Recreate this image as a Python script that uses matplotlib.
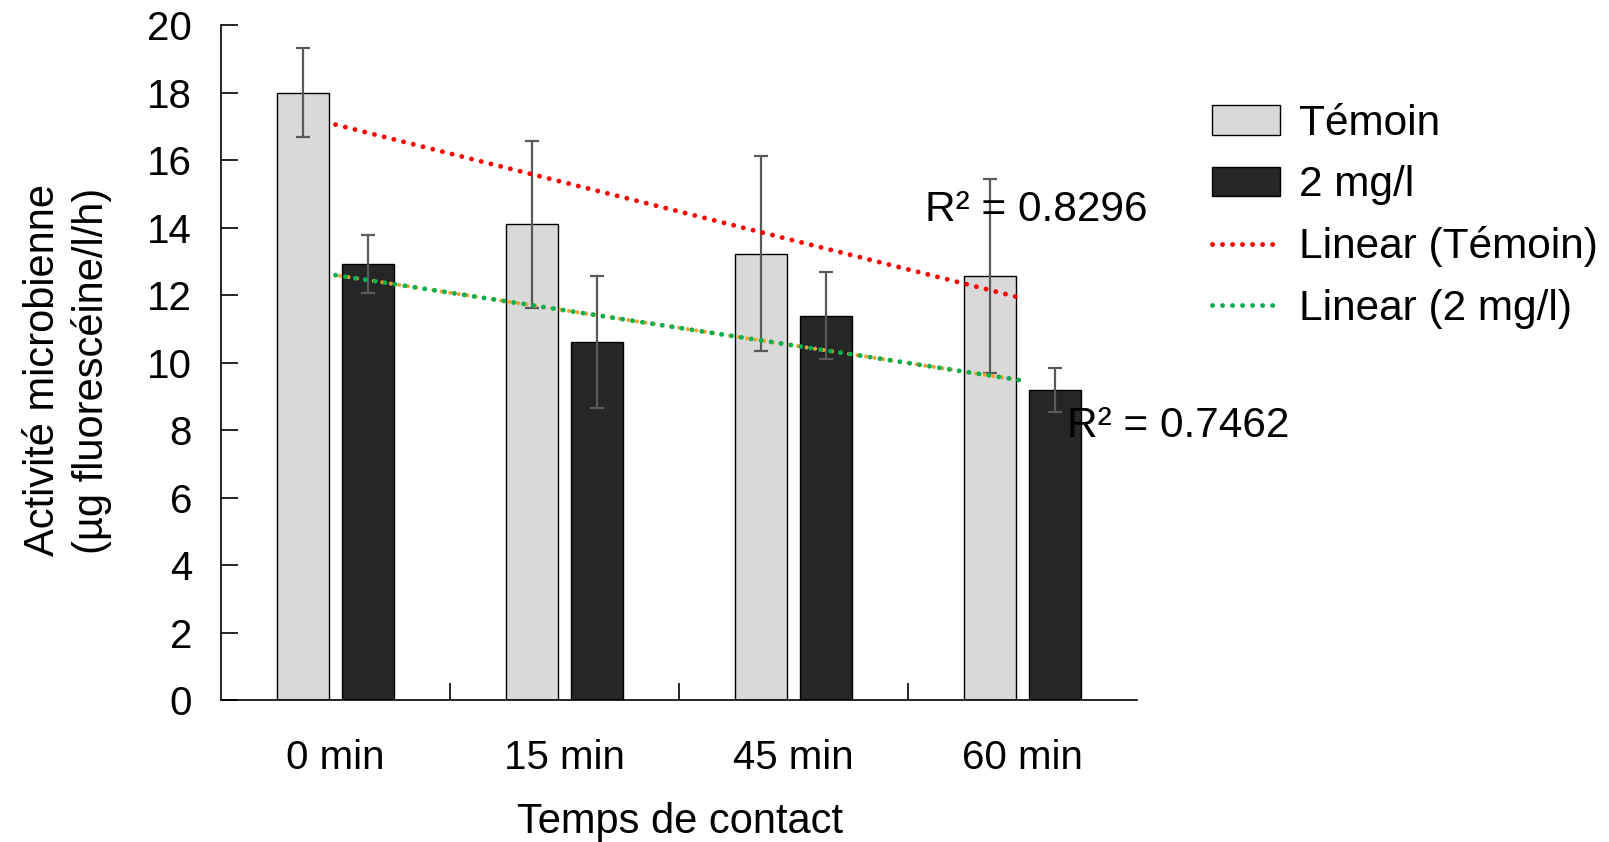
import matplotlib; matplotlib.use('Agg')
import matplotlib.pyplot as plt
import numpy as np
from matplotlib.patches import Patch
from matplotlib.lines import Line2D

plt.rcParams['font.family'] = ['Liberation Sans', 'DejaVu Sans']

# data
categories = ['0 min', '15 min', '45 min', '60 min']
temoin = [18.0, 14.1, 13.23, 12.57]
temoin_err = [1.32, 2.47, 2.9, 2.87]
dose = [12.92, 10.61, 11.39, 9.19]
dose_err = [0.86, 1.95, 1.3, 0.66]
r2_temoin = 'R² = 0.8296'
r2_dose = 'R² = 0.7462'

x = np.arange(len(categories))
w = 0.227
off = 0.142

fig = plt.figure(figsize=(16.09, 8.42), dpi=100)
ax = fig.add_axes([0.1374, 0.1686, 0.5693, 0.8017])

err_kw = dict(ecolor='#595959', elinewidth=1.6, capsize=5, capthick=1.6)
ax.bar(x - off, temoin, w, color='#d9d9d9', edgecolor='black', linewidth=1.0,
       yerr=temoin_err, error_kw=err_kw, zorder=2)
ax.bar(x + off, dose, w, color='#262626', edgecolor='black', linewidth=1.0,
       yerr=dose_err, error_kw=err_kw, zorder=2)

# linear trend lines
p1 = np.polyfit(x, temoin, 1)
p2 = np.polyfit(x, dose, 1)
dots = (0, (0.01, 2.05))
ax.plot(x, np.polyval(p2, x), color='#f4a030', lw=3.0, ls=(1.0, (0.01, 2.05)),
        dash_capstyle='round', zorder=3)
ax.plot(x, np.polyval(p1, x), color='#ff0000', lw=3.5, ls=dots,
        dash_capstyle='round', zorder=3)
ax.plot(x, np.polyval(p2, x), color='#00b050', lw=3.5, ls=dots,
        dash_capstyle='round', zorder=4)

ax.text(2.574, 14.52, r2_temoin, fontsize=30.5, ha='left', va='center', zorder=5)
ax.text(3.194, 8.12, r2_dose, fontsize=30.5, ha='left', va='center', zorder=5)

ax.set_xlim(-0.5, 3.5)
ax.set_ylim(0, 20)
ax.set_yticks(np.arange(0, 21, 2))
ax.set_xticks(x)
ax.set_xticklabels(categories)
ax.set_xticks([0.5, 1.5, 2.5], minor=True)
ax.tick_params(axis='x', which='major', length=0, pad=28, labelsize=29)
ax.tick_params(axis='x', which='minor', direction='in', length=12, width=1.2)
ax.tick_params(axis='y', direction='in', length=12, width=1.2, pad=21, labelsize=29)
for s in ['top', 'right']:
    ax.spines[s].set_visible(False)
for s in ['left', 'bottom']:
    ax.spines[s].set_linewidth(1.2)

ax.set_xlabel('Temps de contact', fontsize=30)
ax.xaxis.set_label_coords(0.501, -0.18)
ax.xaxis.label.set_va('center')

fig.text(0.042, 0.56, 'Activité microbienne\n(µg fluorescéine/l/h)', rotation=90,
         fontsize=30, ha='center', va='center', multialignment='center', linespacing=1.25)

handles = [
    Patch(facecolor='#d9d9d9', edgecolor='black', linewidth=1.0),
    Patch(facecolor='#262626', edgecolor='black', linewidth=1.0),
    Line2D([], [], color='#ff0000', lw=3.5, ls=dots, dash_capstyle='round'),
    Line2D([], [], color='#00b050', lw=3.5, ls=dots, dash_capstyle='round'),
]
labels = ['Témoin', '2 mg/l', 'Linear (Témoin)', 'Linear (2 mg/l)']
fig.legend(handles, labels, loc='upper left', bbox_to_anchor=(1212 / 1609, 1 - 104 / 842),
           frameon=False, fontsize=30.5, handlelength=1.6, handleheight=0.7,
           handletextpad=0.45, labelspacing=0.5, borderpad=0, borderaxespad=0)

plt.savefig('out.png', dpi=100)
plt.close()
